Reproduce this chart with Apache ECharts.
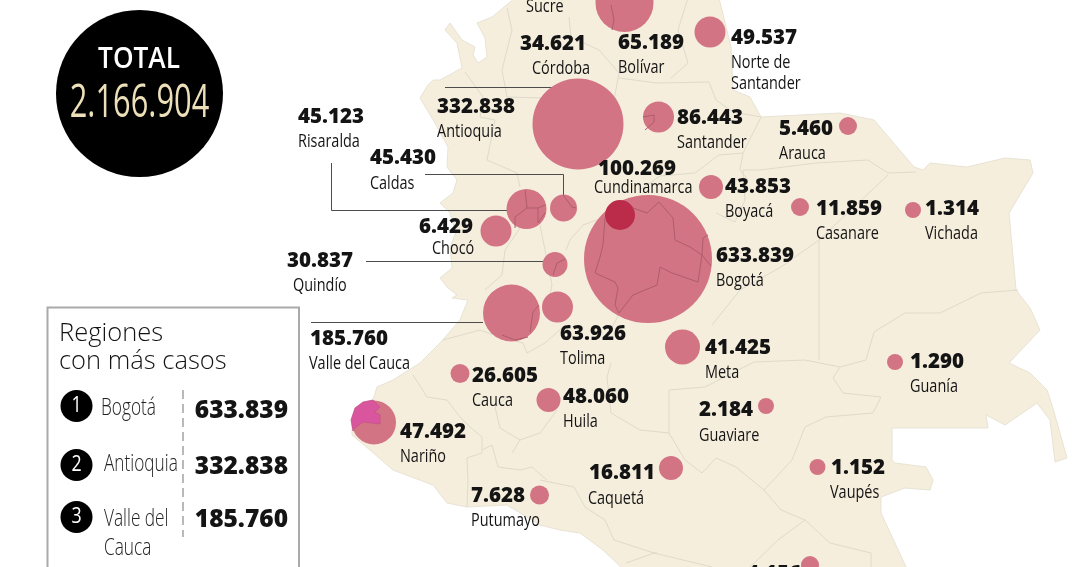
<!DOCTYPE html>
<html><head><meta charset="utf-8">
<style>html,body{margin:0;padding:0;background:#fff}#c{width:1080px;height:567px}</style>
<script src="https://cdn.jsdelivr.net/npm/echarts@6/dist/echarts.min.js"></script></head>
<body><div id="c"></div>
<script>
// ---------- data ----------
const regions = ['Bolívar','Norte de\nSantander','Córdoba','Antioquia','Santander','Arauca','Risaralda','Caldas','Cundinamarca','Boyacá','Chocó','Casanare','Vichada','Quindío','Bogotá','Valle del Cauca','Tolima','Meta','Guanía','Cauca','Huila','Guaviare','Nariño','Vaupés','Caquetá','Putumayo','Amazonas'];
const cases = [65189,49537,34621,332838,86443,5460,45123,45430,100269,43853,6429,11859,1314,30837,633839,185760,63926,41425,1290,26605,48060,2184,47492,1152,16811,7628,4156];
const totalCases = 2166904;
const topRegions = ['Bogotá','Antioquia','Valle del\nCauca'];
const topCases = [633839,332838,185760];
const ranks = [1,2,3];

// ---------- layout: map positions in picture units ----------
const bubbleX = [624.5,710,null,578,658.5,848,526.5,563.5,620,711,496,800,913,555,648,511.5,557.5,682.5,895,460,548.5,766,374,817.5,671,539.5,810];
const bubbleY = [3,32,null,124,117,126,209,208,215,187,231,207,210,264.5,259,313,307,347,362,373.5,400,406,422.5,467,468,495,565];
const bubbleR = [29,15.5,0,45.5,15.5,9,20,13.5,15,12,15.5,9,8,12.5,64,28.5,15.5,17.5,8,9.5,12,8,22,8,12,9.5,9];
const valueX = [618,731,520,437,677,779,298,370,598,725,419,816,925,287,716,310,560,705,910,472,563,699,400,831,589,471,747];
const valueY = [43,38,44,107,118,129,117,158,169,187,227,209,209,261,256,339,334,348,362,376,397,410,432,468,473,496,574];
const nameX  = [618,731,532,437,677,779,298,370,594,725,432,816,925,293,716,309,560,705,910,472,563,699,400,830,588,471,null];
const nameY  = [68,63,69,132,143,154,142,184,188,212,249,234,234,286,281,364,359,373,387,401,422,436,457,493,499,521,null];

const land = [[515,-2],[492,17],[477,23],[485,38],[487,57],[478,63],[473,55],[475,47],[462,40],[450,23],[445,30],[457,43],[462,68],[440,80],[433,80],[428,85],[420,98],[435,123],[448,147],[447,167],[457,180],[453,193],[440,203],[450,213],[456,232],[450,247],[452,268],[440,278],[447,287],[457,295],[452,298],[468,300],[460,320],[440,343],[420,363],[393,380],[377,387],[373,400],[352,420],[352,435],[370,450],[393,470],[433,485],[447,503],[467,507],[507,505],[540,525],[560,530],[580,533],[603,550],[623,569],[907,569],[881,513],[881,497],[905,488],[930,490],[933,480],[926,467],[895,463],[892,460],[892,428],[988,428],[986,415],[1005,425],[1037,403],[1050,420],[1055,462],[1067,458],[1052,405],[1047,390],[1030,373],[1009,363],[1040,330],[1030,308],[1016,290],[1009,213],[1033,173],[1030,160],[1005,158],[967,167],[930,163],[923,170],[914,167],[874,120],[840,113],[761,117],[750,97],[733,90],[731,47],[719,-2]];

const borders = [
 [[819,240],[819,360]],
 [[888,175],[819,240],[781,267],[740,290],[712,325]],
 [[743,170],[760,170],[816,163],[868,160],[888,173],[916,172]],
 [[1018,290],[981,293],[940,313],[905,313],[874,332],[866,360],[840,367],[805,360],[754,362],[705,387],[669,390],[669,433]],
 [[840,367],[833,378],[843,393],[881,397],[873,413],[826,417],[805,427],[792,460],[764,490]],
 [[669,433],[685,460],[702,473],[716,458],[736,467],[764,490],[781,510],[805,520],[830,543],[871,553],[871,567]],
 [[805,520],[778,540],[750,567]],
 [[540,480],[574,487],[585,507],[605,520],[614,540],[654,553],[712,567]],
 [[657,552],[626,563]],
 [[611,363],[607,377],[611,413],[640,430],[669,433]],
 [[413,375],[427,397],[447,400],[460,417],[470,427],[482,437],[482,453],[467,458],[468,480],[467,507]],
 [[482,450],[492,445],[498,467],[520,470],[532,467],[547,480]],
 [[512,453],[520,440],[500,428],[495,407],[510,395]],
 [[520,440],[540,433],[557,410]],
 [[443,340],[480,330],[500,337],[523,343],[527,353],[545,343],[563,327]],
 [[465,72],[483,97],[480,117],[495,120],[487,160],[517,173],[520,187]],
 [[507,8],[512,30],[502,70],[507,97],[543,98]],
 [[569,17],[571,37],[599,50],[619,73],[614,100]],
 [[619,78],[657,83],[709,82],[716,100],[733,112],[761,117],[743,153],[740,170],[748,180]],
 [[671,78],[688,63],[678,30],[688,-2]],
 [[743,153],[719,155],[695,173],[660,176],[640,190]],
 [[520,228],[505,250],[502,275],[485,290]],
 [[540,225],[545,250],[552,285],[548,305]],
 [[605,217],[583,225],[570,240],[566,250]],
 [[716,213],[735,222],[745,200],[743,170]],
 [[619,313],[615,322],[607,335]]
];
const overBorders = [
 [[605,218],[603,245],[600,257],[595,273],[615,282],[618,288],[615,305],[619,313],[633,295],[657,285],[660,267],[672,273],[698,282],[702,255],[711,266]],
 [[633,208],[647,213],[659,202],[673,218],[675,240],[690,247],[702,255],[703,238],[708,235]],
 [[525,190],[527,208],[515,217],[515,228]],[[527,208],[538,208],[545,205]],[[538,208],[538,223],[545,213]],
 [[563,195],[572,207],[576,208]],
 [[565,259],[557,263],[553,275]],
 [[539,305],[533,312],[530,332]],[[502,335],[515,340],[528,337]],
 [[643,117],[654,115],[654,122],[645,130]],
 [[611,5],[614,20],[612,30]]
];
const narinoPatch = [[373,400],[380,407],[375,412],[380,415],[380,424],[363,422],[355,428],[353,431],[351,420],[355,408],[363,402]];
const leaders = [
 [[445,87.5],[574,87.5]],
 [[425,174.5],[563.5,174.5],[563.5,195]],
 [[331.5,163],[331.5,210.5],[514,210.5]],
 [[366,261.5],[543,261.5]],
 [[311,322.5],[483,322.5]]
];

const fmt = n => String(n).replace(/\B(?=(\d{3})+$)/g,'.');
const numFont = '800 20.5px "Open Sans"';
const nameFont = '19px "Open Sans"';
const INK = '#141414';
const NAME_SQUEEZE = 0.76;

// text items: [x,y,text,font,fill,horizontal squeeze]
const texts = [];
regions.forEach((r,i)=>{
  texts.push([valueX[i],valueY[i],fmt(cases[i]),numFont,INK,1]);
  if(nameX[i]!=null){
    r.split('\n').forEach((p,k)=>texts.push([nameX[i],nameY[i]+k*21,p,nameFont,INK,NAME_SQUEEZE]));
  }
});
texts.push([526,7,'Sucre',nameFont,INK,NAME_SQUEEZE]);

function pointsOf(api,pts){return pts.map(p=>api.coord(p));}
const panelCircleY=[406,465,517], panelNameX=[101,104,104], panelNameY=[408,464,519], panelValY=[411,467,520];
// draw big bubbles first so that small ones stay on top
const order = regions.map((r,i)=>i).filter(i=>bubbleX[i]!=null).sort((a,b)=>bubbleR[b]-bubbleR[a]);

const option = {
  animation:false,
  backgroundColor:'#fff',
  grid:{left:0,right:0,top:0,bottom:0},
  xAxis:{type:'value',min:0,max:1080,show:false},
  yAxis:{type:'value',min:0,max:567,inverse:true,show:false},
  series:[
   {type:'custom',z:1,silent:true,clip:false,coordinateSystem:'cartesian2d',data:[[0,0]],
    renderItem:(p,api)=>({type:'group',children:[
      {type:'polygon',shape:{points:pointsOf(api,land)},style:{fill:'#f5eedd',stroke:'#e8e3d4',lineWidth:1}},
      ...borders.map(b=>({type:'polyline',shape:{points:pointsOf(api,b)},style:{fill:null,stroke:'#dfdacb',lineWidth:1}}))
    ]})},
   {type:'custom',z:2,silent:true,coordinateSystem:'cartesian2d',data:[[0,0]],
    renderItem:(p,api)=>({type:'group',children:leaders.map(b=>({type:'polyline',shape:{points:pointsOf(api,b)},style:{fill:null,stroke:'#4d4d4d',lineWidth:1}}))})},
   {type:'scatter',z:3,silent:true,
    data:order.map(i=>({name:regions[i],value:[bubbleX[i],bubbleY[i],cases[i]],symbolSize:bubbleR[i]*2,
      itemStyle:{color:regions[i]==='Cundinamarca'?'#bb2b4a':'#d37484',opacity:1}}))},
   {type:'custom',z:4,silent:true,coordinateSystem:'cartesian2d',data:[[0,0]],
    renderItem:(p,api)=>({type:'group',children:[
      {type:'polygon',shape:{points:pointsOf(api,narinoPatch)},style:{fill:'#d9569e',stroke:'#c05488',lineWidth:0.8}},
      ...overBorders.map(b=>({type:'polyline',shape:{points:pointsOf(api,b)},style:{fill:null,stroke:'#ad5d6c',lineWidth:1}}))
    ]})},
   {type:'custom',z:5,silent:true,clip:false,coordinateSystem:'cartesian2d',data:texts,
    encode:{x:0,y:1},
    renderItem:(p,api)=>{const t=texts[p.dataIndex],c=api.coord([t[0],t[1]]);
      return {type:'text',x:c[0],y:c[1],scaleX:t[5],style:{text:t[2],font:t[3],fill:t[4],align:'left',verticalAlign:'middle'}};}}
  ],
  graphic:[
   {type:'circle',shape:{cx:139.5,cy:93.5,r:83.5},style:{fill:'#000'},z:10},
   {type:'text',x:139,y:60,z:11,scaleX:0.92,style:{text:'TOTAL',font:'600 28.5px "Open Sans"',fill:'#fff',align:'center',verticalAlign:'middle'}},
   {type:'text',x:139.5,y:104,z:11,scaleX:0.67,style:{text:fmt(totalCases),font:'400 46px "Open Sans"',fill:'#ecdfb9',align:'center',verticalAlign:'middle'}},
   {type:'polyline',shape:{points:[[47.5,568],[47.5,307.5],[299,307.5],[299,568]]},style:{fill:null,stroke:'#aaaaaa',lineWidth:2},z:10},
   {type:'text',x:59,y:334,z:11,style:{text:'Regiones',font:'300 25.5px "Open Sans"',fill:INK,align:'left',verticalAlign:'middle'}},
   {type:'text',x:59,y:362,z:11,style:{text:'con más casos',font:'300 25.5px "Open Sans"',fill:INK,align:'left',verticalAlign:'middle'}},
   {type:'line',shape:{x1:183,y1:390,x2:183,y2:537},style:{stroke:'#8a8a8a',lineWidth:1.2,lineDash:[9,5]},z:10},
   ...ranks.flatMap((n,i)=>[
     {type:'circle',shape:{cx:76.5,cy:panelCircleY[i],r:16},style:{fill:'#000'},z:10},
     {type:'text',x:76.5,y:panelCircleY[i],z:11,scaleX:0.85,style:{text:String(n),font:'21px "Open Sans"',fill:'#fff',align:'center',verticalAlign:'middle'}},
     ...topRegions[i].split('\n').map((p,k)=>({type:'text',x:panelNameX[i],y:panelNameY[i]+k*29,z:11,scaleX:0.75,style:{text:p,font:'300 23px "Open Sans"',fill:'#222',align:'left',verticalAlign:'middle'}})),
     {type:'text',x:288,y:panelValY[i],z:11,style:{text:fmt(topCases[i]),font:'800 24.5px "Open Sans"',fill:INK,align:'right',verticalAlign:'middle'}}
   ])
  ]
};
echarts.init(document.getElementById('c'),null,{renderer:'canvas'}).setOption(option);
</script></body></html>
